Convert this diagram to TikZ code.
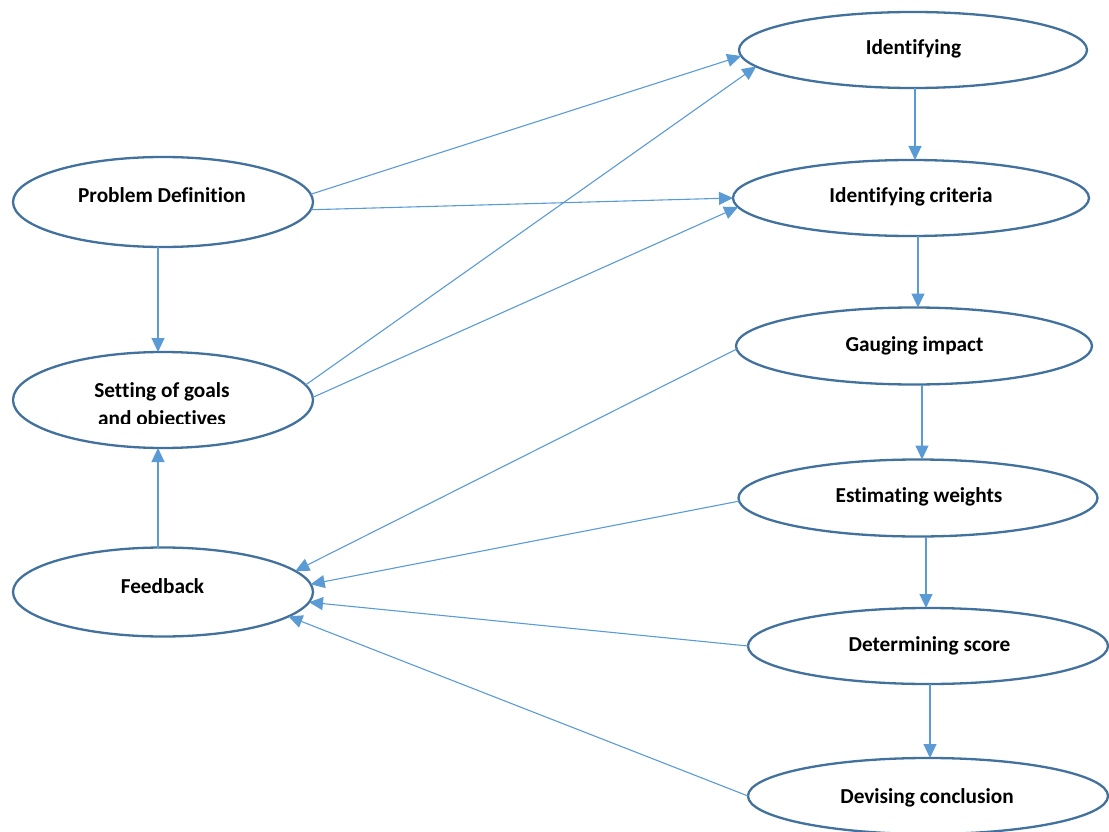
\documentclass[tikz,border=0pt]{standalone}
\usepackage{fontspec}
\setmainfont[Ligatures={NoCommon},RawFeature={-liga;-clig;-dlig}]{Carlito}
\usetikzlibrary{arrows.meta,shapes.geometric}
\definecolor{ellcol}{HTML}{41719C}
\definecolor{arrcol}{HTML}{5B9BD5}
\tikzset{
  ell/.style={ellipse, draw=ellcol, line width=2.3pt, fill=white, inner sep=0pt, outer sep=0pt, minimum width=300pt, minimum height=90pt},
  lbl/.style={font=\fontsize{21.3}{28}\selectfont\bfseries, text=black, inner sep=0pt, anchor=base},
  conn/.style={draw=arrcol, line width=1.1pt, -{Triangle[length=14pt,width=13pt]}}
}
\begin{document}
\begin{tikzpicture}[x=1pt,y=-1pt]
\useasboundingbox (0,0) rectangle (1109,832);
% left column
\node[ell, minimum height=90pt] (pd) at (163,202) {};
\node[lbl] (pdt) at (162,203) {Problem Definition};
\node[ell, minimum height=96pt] (sg) at (163,400) {};
\begin{scope}
  \clip (20,370) rectangle (306,423.5);
  \node[lbl] (sgt1) at (162,397) {Setting of goals};
  \node[lbl] (sgt2) at (162,425) {and objectives};
\end{scope}
\node[ell, minimum height=89pt] (fb) at (163,592) {};
\node[lbl] (fbt) at (162.5,593) {Feedback};
% right column
\node[ell, minimum width=348pt, minimum height=76pt] (id) at (913,50) {};
\node[lbl] (idt) at (913.5,55) {Identifying};
\node[ell, minimum width=356pt, minimum height=76pt] (ic) at (911,198) {};
\node[lbl] (ict) at (911,202) {Identifying criteria};
\node[ell, minimum width=356pt, minimum height=77pt] (gi) at (914,346) {};
\node[lbl] (git) at (914.5,351) {Gauging impact};
\node[ell, minimum width=359pt, minimum height=77pt] (ew) at (918,498) {};
\node[lbl] (ewt) at (919,502) {Estimating weights};
\node[ell, minimum width=360pt, minimum height=76pt] (ds) at (928,646) {};
\node[lbl] (dst) at (929.5,651) {Determining score};
\node[ell, minimum width=360pt, minimum height=76pt] (dc) at (928,796) {};
\node[lbl] (dct) at (927,803) {Devising conclusion};
% vertical connectors
\draw[conn] (pd.south -| 158,0) -- (sg.north -| 158,0);
\draw[conn] (fb.north -| 158,0) -- (sg.south -| 158,0);
\draw[conn] (id.south -| 915,0) -- (ic.north -| 915,0);
\draw[conn] (ic.south -| 918,0) -- (gi.north -| 918,0);
\draw[conn] (gi.south -| 922,0) -- (ew.north -| 922,0);
\draw[conn] (ew.south -| 926,0) -- (ds.north -| 926,0);
\draw[conn] (ds.south -| 930,0) -- (dc.north -| 930,0);
% diagonal connectors
\draw[conn] (pd.3.5) -- (id.182.3);
\draw[conn] (pd.-3.4) -- (ic.180.6);
\draw[conn] (sg.6.8) -- (id.186.4);
\draw[conn] (sg.1.9) -- (ic.183.3);
\draw[conn] (gi.181.3) -- (fb.9.5);
\draw[conn] (ew.181.3) -- (fb.3.5);
\draw[conn] (ds.180.3) -- (fb.-4.3);
\draw[conn] (dc.180) -- (fb.-11);
\end{tikzpicture}
\end{document}
